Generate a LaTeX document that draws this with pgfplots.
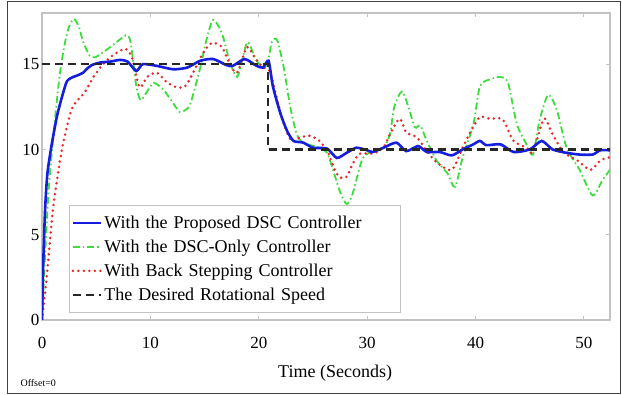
\documentclass[border=0pt]{standalone}
\usepackage{pgfplots}
\pgfplotsset{compat=1.18}
\usepackage{fontspec}
\setmainfont{Liberation Serif}
\definecolor{cblue}{RGB}{20,30,220}
\definecolor{cgreen}{RGB}{60,220,60}
\definecolor{cred}{RGB}{230,40,40}
\definecolor{axgray}{RGB}{195,195,195}
\begin{document}
\begin{tikzpicture}
\path[use as bounding box] (0pt,0pt) rectangle (622pt,-395pt);
\draw[line width=1pt, black!75] (7pt,-1.5pt) rectangle (620.5pt,-393.5pt);
\begin{axis}[
  at={(42pt,-320pt)}, anchor=south west,
  scale only axis, width=568pt, height=307pt,
  xmin=0, xmax=52.4, ymin=0, ymax=18,
  xtick={0,10,20,30,40,50}, ytick={0,5,10,15},
  axis line style={axgray, line width=1.2pt},
  tick style={axgray, line width=1pt},
  major tick length=4pt,
  tick align=inside,
  /pgf/number format/assume math mode=true,
  tick label style={font=\fontsize{17}{20}\selectfont, black},
  xticklabel style={yshift=-14pt},
  yticklabel style={xshift=1pt},
  xlabel={Time (Seconds)},
  xlabel style={font=\fontsize{18}{21}\selectfont, at={(axis description cs:0.516,0)}, anchor=center, yshift=-53pt},
  legend style={at={(axis description cs:0.0475,0.375)}, anchor=north west,
    draw=axgray, line width=1pt, font=\fontsize{18}{21}\selectfont,
    row sep=6pt, inner xsep=2pt, inner ysep=8.5pt, cells={anchor=west, text width=292pt, align=left}},
  legend image code/.code={\draw[#1] (0pt,0pt) -- (28pt,0pt);},
]
\addlegendimage{cblue, line width=2.6pt}
\addlegendentry{With the Proposed DSC Controller}
\addlegendimage{cgreen, line width=1.8pt, dash pattern=on 7pt off 3pt on 1.5pt off 3pt}
\addlegendentry{With the DSC-Only Controller}
\addlegendimage{cred, line width=2.8pt, line cap=round, dash pattern=on 0pt off 5.5pt}
\addlegendentry{With Back Stepping Controller}
\addlegendimage{black!85, line width=2.2pt, dash pattern=on 8pt off 5pt}
\addlegendentry{The Desired Rotational Speed}

\addplot[forget plot, cgreen, line width=1.8pt, dash pattern=on 7pt off 3pt on 1.5pt off 3pt, smooth, tension=0.45] coordinates {
(0,0)(0.3,4)(0.6,7.5)(0.98,10.35)(1.6,14.2)(2.1,16.2)(2.5,17.2)(2.95,17.65)(3.4,17.2)(3.8,16.3)(4.4,15.5)(4.9,15.4)(5.4,15.6)(6.3,16.0)(6.9,16.3)(7.5,16.6)(7.9,16.7)(8.2,16.2)(8.7,13.7)(9.1,12.9)(9.6,13.3)(10.3,13.9)(11.2,13.5)(12.0,12.8)(12.7,12.2)(13.2,12.3)(13.7,12.7)(14.6,14.8)(15.2,16.5)(15.8,17.6)(16.6,16.8)(17.3,15.2)(18.0,14.25)(18.6,15.6)(19.0,16.3)(19.8,15.2)(20.7,14.8)(21.2,16.3)(21.7,16.4)(22.3,14.8)(22.9,12.5)(23.5,10.9)(24.1,10.4)(25.6,10.1)(26.3,9.8)(26.8,8.9)(27.5,7.5)(28.1,6.8)(28.6,7.3)(29.0,8.2)(29.6,9.5)(30.5,9.9)(31.5,10.1)(32.1,10.9)(32.5,12.5)(33.2,13.4)(33.8,12.5)(34.4,11.3)(34.9,11.4)(35.5,10.5)(36.4,9.35)(37.4,8.6)(38.1,7.8)(38.8,9.5)(39.8,11.5)(40.4,13.7)(41.3,14.1)(42.3,14.25)(43.0,13.9)(43.8,11.5)(44.7,10.3)(45.3,9.7)(45.9,11.7)(46.7,13.2)(47.5,12.3)(48.4,10.1)(49.6,8.8)(50.8,7.3)(51.7,8.2)(52.4,8.8)
};
\addplot[forget plot, cred, line width=2.8pt, line cap=round, dash pattern=on 0pt off 5.5pt, smooth, tension=0.45] coordinates {
(0,0)(0.43,2.5)(1.0,6.4)(1.5,8.7)(1.95,10.35)(2.7,12.3)(3.3,12.9)(3.9,13.3)(4.7,14.2)(5.5,14.9)(6.3,15.4)(7.0,15.7)(7.7,15.9)(8.3,15.4)(9.0,13.65)(9.7,14.25)(10.6,14.5)(11.5,13.95)(12.4,13.65)(13.2,13.7)(13.9,14.45)(14.9,15.7)(15.7,16.25)(16.6,16.0)(17.3,15.05)(18.0,14.5)(18.9,16.0)(19.6,15.4)(20.4,14.8)(21.0,14.6)(21.7,12.9)(22.2,11.7)(23.0,10.5)(23.8,10.7)(24.7,10.8)(25.6,10.5)(26.4,9.8)(27.0,8.8)(27.5,8.35)(28.1,8.4)(28.7,9.2)(29.3,9.75)(30.3,9.75)(30.9,9.85)(31.6,10.2)(32.1,10.9)(33.0,11.8)(33.6,11.0)(34.6,10.7)(35.5,9.9)(36.4,9.25)(37.8,8.8)(38.8,10.1)(39.5,11.0)(40.4,11.9)(41.3,11.8)(42.5,11.75)(43.5,10.5)(44.7,10.1)(45.3,9.85)(46.3,11.8)(47.1,10.9)(48.1,9.85)(49.4,9.35)(50.6,8.8)(51.5,9.35)(52.4,9.55)
};
\addplot[forget plot, cblue, line width=2.6pt, smooth, tension=0.4] coordinates {
(0,0)(0.1,3)(0.28,6.4)(0.5,8.6)(0.9,10.3)(1.4,12.0)(1.94,13.3)(2.3,14.0)(2.7,14.2)(3.3,14.35)(3.8,14.5)(4.1,14.7)(4.6,14.95)(5.4,15.1)(6.3,15.15)(7.2,15.25)(7.9,15.15)(8.7,14.6)(9.3,15.0)(10.6,14.9)(12.1,14.7)(13.4,14.8)(14.6,15.2)(15.8,15.3)(17.0,14.95)(17.6,14.9)(18.7,15.3)(19.8,14.9)(20.4,14.8)(20.9,15.2)(21.3,13.7)(22.0,12.1)(22.6,11.1)(23.2,10.5)(24.1,10.4)(25.0,10.1)(26.3,10.05)(27.2,9.5)(28.1,9.8)(29.0,10.1)(30.0,9.95)(30.5,9.85)(31.5,10.1)(32.7,10.4)(33.6,9.9)(34.7,10.2)(35.5,9.85)(36.7,9.85)(37.8,9.65)(38.8,10.0)(39.8,10.3)(40.4,10.5)(41.0,10.25)(42.3,10.3)(43.5,9.85)(45.0,10.0)(46.1,10.5)(47.1,10.0)(48.4,9.8)(49.6,9.7)(50.8,9.7)(51.5,9.95)(52.4,9.95)
};
\addplot[forget plot, black!85, line width=2.2pt, dash pattern=on 8pt off 5pt] coordinates {
(0,15)(20.87,15)(20.87,10)(52.4,10)
};
\end{axis}
\node[anchor=west, font=\fontsize{10}{12}\selectfont] at (17pt,-383pt) {Offset=0};
\end{tikzpicture}
\end{document}
